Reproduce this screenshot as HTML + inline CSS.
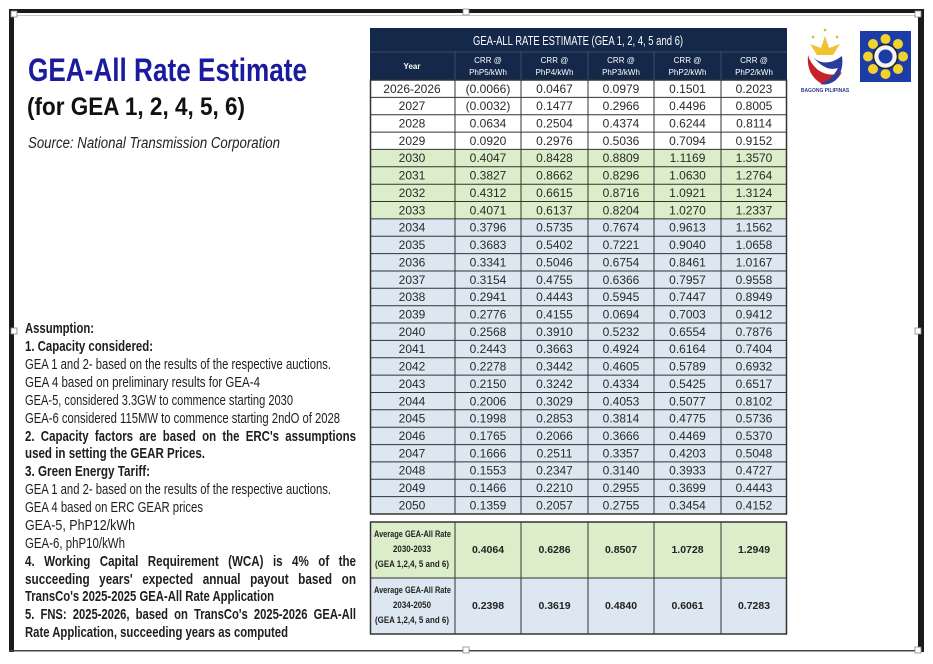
<!DOCTYPE html>
<html><head><meta charset="utf-8"><style>
html,body{margin:0;padding:0;background:#fff;width:933px;height:664px;overflow:hidden}
svg{display:block}
.t{font-family:"Liberation Sans Narrow","Liberation Sans",sans-serif;font-size:15px;fill:#1e1e1e}
.b{font-weight:bold}
.d{font-family:"Liberation Sans Narrow","Liberation Sans",sans-serif;font-size:12px;fill:#2a2a2a;text-anchor:middle}
.h{font-family:"Liberation Sans",sans-serif;font-size:8px;fill:#fff;text-anchor:middle}
.s{font-family:"Liberation Sans Narrow","Liberation Sans",sans-serif;font-size:9px;fill:#222;font-weight:bold}
.sv{font-family:"Liberation Sans",sans-serif;font-size:10.5px;fill:#222;text-anchor:middle;font-weight:bold}
</style></head><body>
<svg width="933" height="664" viewBox="0 0 933 664" xmlns="http://www.w3.org/2000/svg">
<!-- frame -->
<rect x="9" y="9" width="915" height="4" fill="#1a1a1a"/>
<rect x="9" y="9" width="5" height="643" fill="#1a1a1a"/>
<rect x="918" y="9" width="6" height="643" fill="#1a1a1a"/>
<rect x="9" y="650" width="913" height="1.5" fill="#444"/>
<rect x="16" y="15" width="900" height="0.8" fill="#bbb"/>
<rect x="11" y="11" width="6" height="6" fill="#fff" stroke="#888" stroke-width="0.8"/>
<rect x="463" y="9" width="6" height="6" fill="#fff" stroke="#888" stroke-width="0.8"/>
<rect x="915" y="11" width="6" height="6" fill="#fff" stroke="#888" stroke-width="0.8"/>
<rect x="11" y="328" width="6" height="6" fill="#fff" stroke="#888" stroke-width="0.8"/>
<rect x="915" y="328" width="6" height="6" fill="#fff" stroke="#888" stroke-width="0.8"/>
<rect x="463" y="647" width="6" height="6" fill="#fff" stroke="#888" stroke-width="0.8"/>
<rect x="915" y="647" width="6" height="6" fill="#fff" stroke="#888" stroke-width="0.8"/>

<!-- title -->
<text x="28" y="81" font-family="Liberation Sans,sans-serif" font-weight="bold" font-size="32" fill="#1b1b9e" textLength="279" lengthAdjust="spacingAndGlyphs">GEA-All Rate Estimate</text>
<text x="27" y="115" font-family="Liberation Sans,sans-serif" font-weight="bold" font-size="25" fill="#111" textLength="218" lengthAdjust="spacingAndGlyphs">(for GEA 1, 2, 4, 5, 6)</text>
<text x="28" y="148" font-family="Liberation Sans,sans-serif" font-style="italic" font-size="15.5" fill="#222" textLength="252" lengthAdjust="spacingAndGlyphs">Source: National Transmission Corporation</text>

<!-- assumptions -->
<text class="t b" x="25" y="333" textLength="69" lengthAdjust="spacingAndGlyphs">Assumption:</text>
<text class="t b" x="25" y="351" textLength="128" lengthAdjust="spacingAndGlyphs">1. Capacity considered:</text>
<text class="t" x="25" y="369" textLength="306" lengthAdjust="spacingAndGlyphs">GEA 1 and 2- based on the results of the respective auctions.</text>
<text class="t" x="25" y="387" textLength="235" lengthAdjust="spacingAndGlyphs">GEA 4 based on preliminary results for GEA-4</text>
<text class="t" x="25" y="405" textLength="268" lengthAdjust="spacingAndGlyphs">GEA-5, considered 3.3GW to commence starting 2030</text>
<text class="t" x="25" y="423" textLength="315" lengthAdjust="spacingAndGlyphs">GEA-6 considered 115MW to commence starting 2ndO of 2028</text>
<text class="t b" x="25" y="441" textLength="331" lengthAdjust="spacingAndGlyphs" word-spacing="4">2. Capacity factors are based on the ERC's assumptions</text>
<text class="t b" x="25" y="458" textLength="180" lengthAdjust="spacingAndGlyphs">used in setting the GEAR  Prices.</text>
<text class="t b" x="25" y="476" textLength="125" lengthAdjust="spacingAndGlyphs">3. Green Energy Tariff:</text>
<text class="t" x="25" y="494" textLength="306" lengthAdjust="spacingAndGlyphs">GEA 1 and 2- based on the results of the respective auctions.</text>
<text class="t" x="25" y="512" textLength="178" lengthAdjust="spacingAndGlyphs">GEA 4 based on ERC GEAR prices</text>
<text class="t" x="25" y="530" textLength="110" lengthAdjust="spacingAndGlyphs">GEA-5, PhP12/kWh</text>
<text class="t" x="25" y="548" textLength="100" lengthAdjust="spacingAndGlyphs">GEA-6, phP10/kWh</text>
<text class="t b" x="25" y="566" textLength="331" lengthAdjust="spacingAndGlyphs" word-spacing="8">4. Working Capital Requirement (WCA) is 4% of the</text>
<text class="t b" x="25" y="584" textLength="331" lengthAdjust="spacingAndGlyphs" word-spacing="8">succeeding years' expected annual payout based on</text>
<text class="t b" x="25" y="601" textLength="249" lengthAdjust="spacingAndGlyphs">TransCo's 2025-2025 GEA-All Rate Application</text>
<text class="t b" x="25" y="619" textLength="331" lengthAdjust="spacingAndGlyphs" word-spacing="4">5. FNS: 2025-2026, based on TransCo's 2025-2026 GEA-All</text>
<text class="t b" x="25" y="637" textLength="263" lengthAdjust="spacingAndGlyphs">Rate Application, succeeding years as computed</text>

<!-- table header -->
<rect x="370" y="28" width="417" height="52" fill="#14284a"/>
<text x="578" y="45" font-family="Liberation Sans Narrow,Liberation Sans,sans-serif" font-size="13" fill="#fff" text-anchor="middle" textLength="210" lengthAdjust="spacingAndGlyphs">GEA-ALL RATE ESTIMATE (GEA 1, 2, 4, 5 and 6)</text>
<line x1="370" y1="52" x2="787" y2="52" stroke="#3a4c6a" stroke-width="1"/>
<g stroke="#3a4c6a" stroke-width="1"><line x1="455" y1="52" x2="455" y2="80"/><line x1="521" y1="52" x2="521" y2="80"/><line x1="588" y1="52" x2="588" y2="80"/><line x1="654" y1="52" x2="654" y2="80"/><line x1="721" y1="52" x2="721" y2="80"/></g>
<text class="h" x="412" y="69" font-weight="bold">Year</text>
<text class="h" x="488" y="63">CRR @</text><text class="h" x="488" y="75">PhP5/kWh</text>
<text class="h" x="554.5" y="63">CRR @</text><text class="h" x="554.5" y="75">PhP4/kWh</text>
<text class="h" x="621" y="63">CRR @</text><text class="h" x="621" y="75">PhP3/kWh</text>
<text class="h" x="687.5" y="63">CRR @</text><text class="h" x="687.5" y="75">PhP2/kWh</text>
<text class="h" x="754" y="63">CRR @</text><text class="h" x="754" y="75">PhP2/kWh</text>

<!-- row backgrounds -->
<rect x="370" y="80" width="417" height="69.4" fill="#ffffff"/>
<rect x="370" y="149.4" width="417" height="69.5" fill="#dcedc9"/>
<rect x="370" y="218.9" width="417" height="295.1" fill="#dde7f2"/>

<!-- rows -->
<g transform="translate(0,80)"><text class="d" x="412" y="12.8">2026-2026</text><text class="d" x="488" y="12.8">(0.0066)</text><text class="d" x="554.5" y="12.8">0.0467</text><text class="d" x="621" y="12.8">0.0979</text><text class="d" x="687.5" y="12.8">0.1501</text><text class="d" x="754" y="12.8">0.2023</text></g>
<g transform="translate(0,97.4)"><text class="d" x="412" y="12.8">2027</text><text class="d" x="488" y="12.8">(0.0032)</text><text class="d" x="554.5" y="12.8">0.1477</text><text class="d" x="621" y="12.8">0.2966</text><text class="d" x="687.5" y="12.8">0.4496</text><text class="d" x="754" y="12.8">0.8005</text></g>
<g transform="translate(0,114.7)"><text class="d" x="412" y="12.8">2028</text><text class="d" x="488" y="12.8">0.0634</text><text class="d" x="554.5" y="12.8">0.2504</text><text class="d" x="621" y="12.8">0.4374</text><text class="d" x="687.5" y="12.8">0.6244</text><text class="d" x="754" y="12.8">0.8114</text></g>
<g transform="translate(0,132.1)"><text class="d" x="412" y="12.8">2029</text><text class="d" x="488" y="12.8">0.0920</text><text class="d" x="554.5" y="12.8">0.2976</text><text class="d" x="621" y="12.8">0.5036</text><text class="d" x="687.5" y="12.8">0.7094</text><text class="d" x="754" y="12.8">0.9152</text></g>
<g transform="translate(0,149.4)"><text class="d" x="412" y="12.8">2030</text><text class="d" x="488" y="12.8">0.4047</text><text class="d" x="554.5" y="12.8">0.8428</text><text class="d" x="621" y="12.8">0.8809</text><text class="d" x="687.5" y="12.8">1.1169</text><text class="d" x="754" y="12.8">1.3570</text></g>
<g transform="translate(0,166.8)"><text class="d" x="412" y="12.8">2031</text><text class="d" x="488" y="12.8">0.3827</text><text class="d" x="554.5" y="12.8">0.8662</text><text class="d" x="621" y="12.8">0.8296</text><text class="d" x="687.5" y="12.8">1.0630</text><text class="d" x="754" y="12.8">1.2764</text></g>
<g transform="translate(0,184.2)"><text class="d" x="412" y="12.8">2032</text><text class="d" x="488" y="12.8">0.4312</text><text class="d" x="554.5" y="12.8">0.6615</text><text class="d" x="621" y="12.8">0.8716</text><text class="d" x="687.5" y="12.8">1.0921</text><text class="d" x="754" y="12.8">1.3124</text></g>
<g transform="translate(0,201.5)"><text class="d" x="412" y="12.8">2033</text><text class="d" x="488" y="12.8">0.4071</text><text class="d" x="554.5" y="12.8">0.6137</text><text class="d" x="621" y="12.8">0.8204</text><text class="d" x="687.5" y="12.8">1.0270</text><text class="d" x="754" y="12.8">1.2337</text></g>
<g transform="translate(0,218.9)"><text class="d" x="412" y="12.8">2034</text><text class="d" x="488" y="12.8">0.3796</text><text class="d" x="554.5" y="12.8">0.5735</text><text class="d" x="621" y="12.8">0.7674</text><text class="d" x="687.5" y="12.8">0.9613</text><text class="d" x="754" y="12.8">1.1562</text></g>
<g transform="translate(0,236.2)"><text class="d" x="412" y="12.8">2035</text><text class="d" x="488" y="12.8">0.3683</text><text class="d" x="554.5" y="12.8">0.5402</text><text class="d" x="621" y="12.8">0.7221</text><text class="d" x="687.5" y="12.8">0.9040</text><text class="d" x="754" y="12.8">1.0658</text></g>
<g transform="translate(0,253.6)"><text class="d" x="412" y="12.8">2036</text><text class="d" x="488" y="12.8">0.3341</text><text class="d" x="554.5" y="12.8">0.5046</text><text class="d" x="621" y="12.8">0.6754</text><text class="d" x="687.5" y="12.8">0.8461</text><text class="d" x="754" y="12.8">1.0167</text></g>
<g transform="translate(0,271)"><text class="d" x="412" y="12.8">2037</text><text class="d" x="488" y="12.8">0.3154</text><text class="d" x="554.5" y="12.8">0.4755</text><text class="d" x="621" y="12.8">0.6366</text><text class="d" x="687.5" y="12.8">0.7957</text><text class="d" x="754" y="12.8">0.9558</text></g>
<g transform="translate(0,288.3)"><text class="d" x="412" y="12.8">2038</text><text class="d" x="488" y="12.8">0.2941</text><text class="d" x="554.5" y="12.8">0.4443</text><text class="d" x="621" y="12.8">0.5945</text><text class="d" x="687.5" y="12.8">0.7447</text><text class="d" x="754" y="12.8">0.8949</text></g>
<g transform="translate(0,305.7)"><text class="d" x="412" y="12.8">2039</text><text class="d" x="488" y="12.8">0.2776</text><text class="d" x="554.5" y="12.8">0.4155</text><text class="d" x="621" y="12.8">0.0694</text><text class="d" x="687.5" y="12.8">0.7003</text><text class="d" x="754" y="12.8">0.9412</text></g>
<g transform="translate(0,323)"><text class="d" x="412" y="12.8">2040</text><text class="d" x="488" y="12.8">0.2568</text><text class="d" x="554.5" y="12.8">0.3910</text><text class="d" x="621" y="12.8">0.5232</text><text class="d" x="687.5" y="12.8">0.6554</text><text class="d" x="754" y="12.8">0.7876</text></g>
<g transform="translate(0,340.4)"><text class="d" x="412" y="12.8">2041</text><text class="d" x="488" y="12.8">0.2443</text><text class="d" x="554.5" y="12.8">0.3663</text><text class="d" x="621" y="12.8">0.4924</text><text class="d" x="687.5" y="12.8">0.6164</text><text class="d" x="754" y="12.8">0.7404</text></g>
<g transform="translate(0,357.8)"><text class="d" x="412" y="12.8">2042</text><text class="d" x="488" y="12.8">0.2278</text><text class="d" x="554.5" y="12.8">0.3442</text><text class="d" x="621" y="12.8">0.4605</text><text class="d" x="687.5" y="12.8">0.5789</text><text class="d" x="754" y="12.8">0.6932</text></g>
<g transform="translate(0,375.1)"><text class="d" x="412" y="12.8">2043</text><text class="d" x="488" y="12.8">0.2150</text><text class="d" x="554.5" y="12.8">0.3242</text><text class="d" x="621" y="12.8">0.4334</text><text class="d" x="687.5" y="12.8">0.5425</text><text class="d" x="754" y="12.8">0.6517</text></g>
<g transform="translate(0,392.5)"><text class="d" x="412" y="12.8">2044</text><text class="d" x="488" y="12.8">0.2006</text><text class="d" x="554.5" y="12.8">0.3029</text><text class="d" x="621" y="12.8">0.4053</text><text class="d" x="687.5" y="12.8">0.5077</text><text class="d" x="754" y="12.8">0.8102</text></g>
<g transform="translate(0,409.8)"><text class="d" x="412" y="12.8">2045</text><text class="d" x="488" y="12.8">0.1998</text><text class="d" x="554.5" y="12.8">0.2853</text><text class="d" x="621" y="12.8">0.3814</text><text class="d" x="687.5" y="12.8">0.4775</text><text class="d" x="754" y="12.8">0.5736</text></g>
<g transform="translate(0,427.2)"><text class="d" x="412" y="12.8">2046</text><text class="d" x="488" y="12.8">0.1765</text><text class="d" x="554.5" y="12.8">0.2066</text><text class="d" x="621" y="12.8">0.3666</text><text class="d" x="687.5" y="12.8">0.4469</text><text class="d" x="754" y="12.8">0.5370</text></g>
<g transform="translate(0,444.6)"><text class="d" x="412" y="12.8">2047</text><text class="d" x="488" y="12.8">0.1666</text><text class="d" x="554.5" y="12.8">0.2511</text><text class="d" x="621" y="12.8">0.3357</text><text class="d" x="687.5" y="12.8">0.4203</text><text class="d" x="754" y="12.8">0.5048</text></g>
<g transform="translate(0,461.9)"><text class="d" x="412" y="12.8">2048</text><text class="d" x="488" y="12.8">0.1553</text><text class="d" x="554.5" y="12.8">0.2347</text><text class="d" x="621" y="12.8">0.3140</text><text class="d" x="687.5" y="12.8">0.3933</text><text class="d" x="754" y="12.8">0.4727</text></g>
<g transform="translate(0,479.3)"><text class="d" x="412" y="12.8">2049</text><text class="d" x="488" y="12.8">0.1466</text><text class="d" x="554.5" y="12.8">0.2210</text><text class="d" x="621" y="12.8">0.2955</text><text class="d" x="687.5" y="12.8">0.3699</text><text class="d" x="754" y="12.8">0.4443</text></g>
<g transform="translate(0,496.6)"><text class="d" x="412" y="12.8">2050</text><text class="d" x="488" y="12.8">0.1359</text><text class="d" x="554.5" y="12.8">0.2057</text><text class="d" x="621" y="12.8">0.2755</text><text class="d" x="687.5" y="12.8">0.3454</text><text class="d" x="754" y="12.8">0.4152</text></g>

<!-- grid lines -->
<g stroke="#333" stroke-width="1" fill="none">
<path d="M370 97.4H787M370 114.7H787M370 132.1H787M370 149.4H787M370 166.8H787M370 184.2H787M370 201.5H787M370 218.9H787M370 236.2H787M370 253.6H787M370 271H787M370 288.3H787M370 305.7H787M370 323H787M370 340.4H787M370 357.8H787M370 375.1H787M370 392.5H787M370 409.8H787M370 427.2H787M370 444.6H787M370 461.9H787M370 479.3H787M370 496.6H787"/>
<path d="M455 80V514M521 80V514M588 80V514M654 80V514M721 80V514"/>
<rect x="370.5" y="80" width="416" height="434" stroke-width="1.5"/>
</g>

<!-- summary -->
<rect x="370" y="522" width="417" height="56" fill="#dcedc9"/>
<rect x="370" y="578" width="417" height="56" fill="#dde7f2"/>
<g stroke="#333" stroke-width="1" fill="none">
<rect x="370.5" y="522" width="416" height="112" stroke-width="1.5"/>
<path d="M370 578H787M455 522V634M521 522V634M588 522V634M654 522V634M721 522V634"/>
</g>
<text class="s" x="374" y="537" textLength="77" lengthAdjust="spacingAndGlyphs">Average GEA-All Rate</text>
<text class="s" x="393" y="552" textLength="38" lengthAdjust="spacingAndGlyphs">2030-2033</text>
<text class="s" x="375" y="567" textLength="74" lengthAdjust="spacingAndGlyphs">(GEA 1,2,4, 5 and 6)</text>
<text class="sv" x="488" y="553">0.4064</text><text class="sv" x="554.5" y="553">0.6286</text><text class="sv" x="621" y="553">0.8507</text><text class="sv" x="687.5" y="553">1.0728</text><text class="sv" x="754" y="553">1.2949</text>
<text class="s" x="374" y="593" textLength="77" lengthAdjust="spacingAndGlyphs">Average GEA-All Rate</text>
<text class="s" x="393" y="608" textLength="38" lengthAdjust="spacingAndGlyphs">2034-2050</text>
<text class="s" x="375" y="623" textLength="74" lengthAdjust="spacingAndGlyphs">(GEA 1,2,4, 5 and 6)</text>
<text class="sv" x="488" y="609">0.2398</text><text class="sv" x="554.5" y="609">0.3619</text><text class="sv" x="621" y="609">0.4840</text><text class="sv" x="687.5" y="609">0.6061</text><text class="sv" x="754" y="609">0.7283</text>

<!-- logos -->
<g>
<circle cx="813" cy="37" r="1.3" fill="#e0b23a"/><circle cx="825" cy="30" r="1.3" fill="#e0b23a"/><circle cx="837" cy="37" r="1.3" fill="#e0b23a"/>
<path d="M825 36 L829 48 L840 44 L833 55 L817 55 L810 44 L821 48 Z" fill="#f1c232"/>
<path d="M808 55 Q806 75 822 84 Q836 84 842 72 Q830 78 818 70 Q810 63 808 55Z" fill="#c8202a"/>
<path d="M814 58 Q826 68 842 56 Q844 70 836 80 Q828 86 820 84 Q832 80 838 68 Q826 72 814 58Z" fill="#2b3c9a"/>
<text x="825" y="92" font-family="Liberation Sans,sans-serif" font-size="5" font-weight="bold" fill="#2b3c8a" text-anchor="middle">BAGONG PILIPINAS</text>
</g>
<g>
<rect x="860" y="31" width="51" height="51" fill="#1c3ca8"/>
<g fill="#f2d22e">
<circle cx="885.5" cy="39" r="5"/><circle cx="885.5" cy="74" r="5"/><circle cx="868" cy="56.5" r="5"/><circle cx="903" cy="56.5" r="5"/>
<circle cx="873" cy="44" r="5"/><circle cx="898" cy="44" r="5"/><circle cx="873" cy="69" r="5"/><circle cx="898" cy="69" r="5"/>
</g>
<circle cx="885.5" cy="56.5" r="12" fill="#f4f4f4" stroke="#222" stroke-width="1.5"/>
<circle cx="885.5" cy="56.5" r="7" fill="#1c3ca8"/>
</g>
</svg>
</body></html>
